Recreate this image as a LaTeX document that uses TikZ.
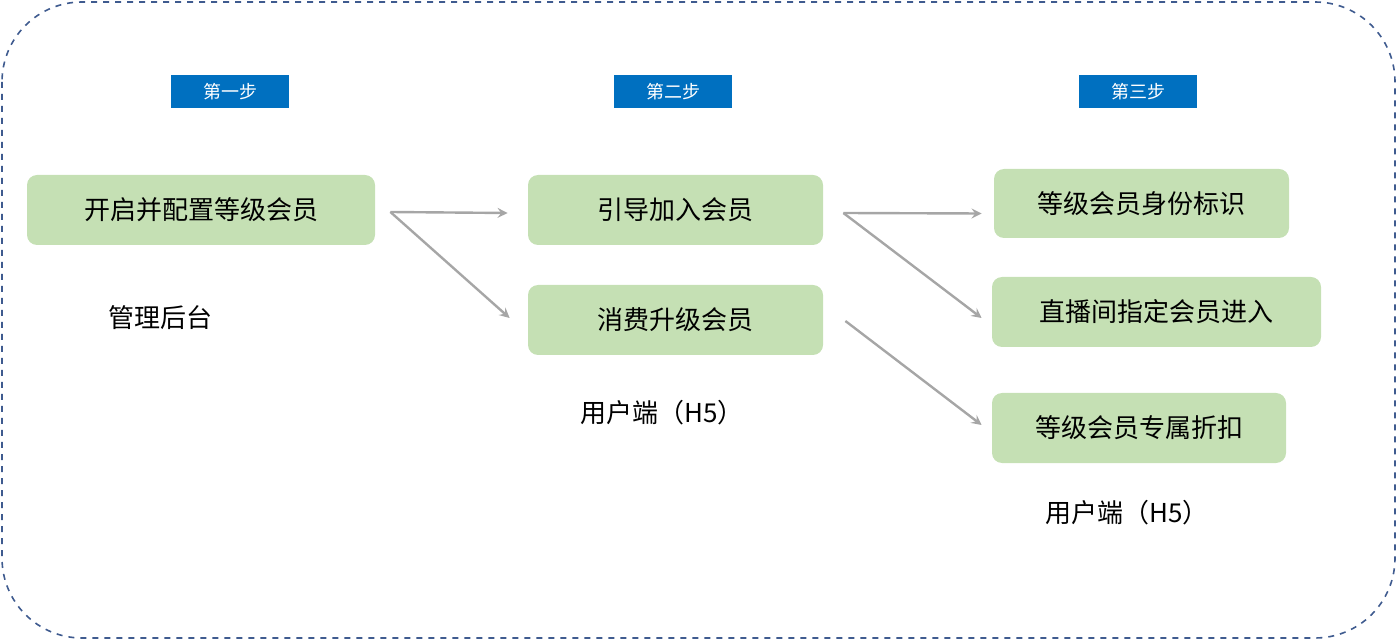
\documentclass[tikz,border=0pt]{standalone}
\usepackage{fontspec}
\setmainfont{Noto Sans CJK SC}
\usetikzlibrary{calc}

\definecolor{frameblue}{HTML}{3F5B8F}
\definecolor{stepblue}{HTML}{0070C0}
\definecolor{boxgreen}{HTML}{C5E0B4}
\definecolor{arrowgray}{HTML}{A6A6A6}

\tikzset{
  stagetag/.style={fill=stepblue, text=white, minimum width=59pt, minimum height=16.5pt, inner sep=0pt, font=\fontsize{9}{10}\selectfont},
  box/.style={fill=boxgreen, rounded corners=5pt, inner sep=0pt, font=\fontsize{13}{15}\selectfont},
  lbl/.style={font=\fontsize{13}{15}\selectfont},
  link/.style={draw=arrowgray, line width=1.2pt, -stealth}
}

\begin{document}
\begin{tikzpicture}[x=0.5pt, y=-0.5pt]
    % outer frame
    \useasboundingbox (0, 0) rectangle (1397, 641);
    \draw[frameblue, dashed, line width=0.8pt, rounded corners=40pt] (2, 2) rectangle (1395, 638);

    % step labels
    \node[stagetag] (s1) at (230, 91.5) {第一步};
    \node[stagetag] (s2) at (673, 91.5) {第二步};
    \node[stagetag] (s3) at (1138, 91.5) {第三步};

    % green boxes
    \node[box, minimum width=174pt, minimum height=35pt] (open) at (201, 210) {开启并配置等级会员};
    \node[box, minimum width=147.5pt, minimum height=35pt] (join) at (675.5, 210) {引导加入会员};
    \node[box, minimum width=147.5pt, minimum height=35pt] (upg) at (675.5, 320) {消费升级会员};
    \node[box, minimum width=147.5pt, minimum height=34.5pt] (badge) at (1141.5, 203.5) {等级会员身份标识};
    \node[box, minimum width=164.5pt, minimum height=35pt] (live) at (1156.5, 312) {直播间指定会员进入};
    \node[box, minimum width=147pt, minimum height=35pt] (disc) at (1139, 428) {等级会员专属折扣};

    % captions
    \node[lbl] (admin) at (160, 318) {管理后台};
    \node[lbl] (h5a) at (662, 413) {用户端（H5）};
    \node[lbl] (h5b) at (1127, 513) {用户端（H5）};

    % arrows
    \coordinate (o1) at ($(open.east)+(15,2)$);
    \coordinate (j1) at ($(join.east)+(20,3)$);
    \coordinate (u1) at ($(upg.east)+(22,1)$);
    \draw[link] (o1) -- ($(join.west)+(-20,3)$);
    \draw[link] (o1) -- ($(upg.west)+(-18,-2)$);
    \draw[link] (j1) -- ($(badge.west)+(-12,10)$);
    \draw[link] (j1) -- ($(live.west)+(-10,6)$);
    \draw[link] (u1) -- ($(disc.west)+(-10,-3)$);
\end{tikzpicture}
\end{document}
